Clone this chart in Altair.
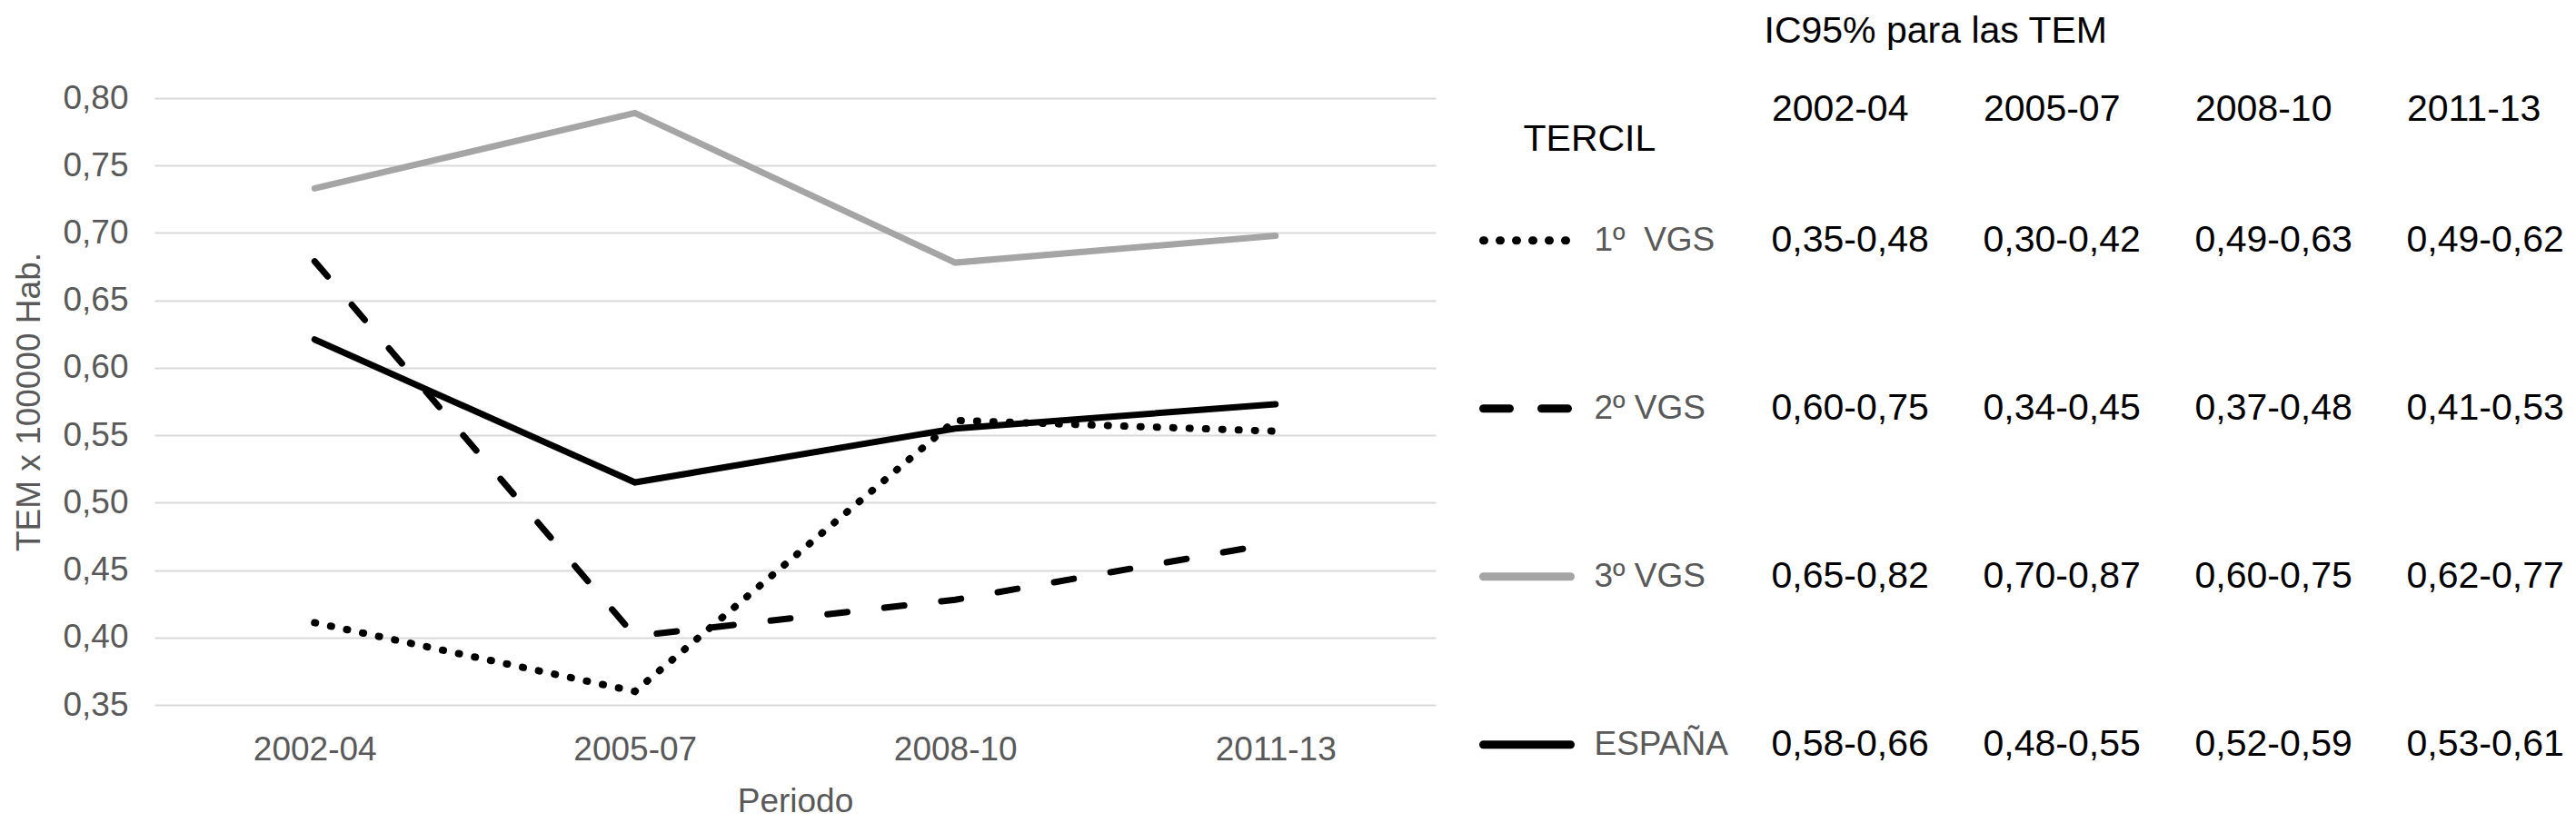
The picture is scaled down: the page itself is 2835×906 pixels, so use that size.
import altair as alt
import pandas as pd

# ---------------- data ----------------
periods = ["2002-04", "2005-07", "2008-10", "2011-13"]
series = ["1º\u00a0 VGS", "2º VGS", "3º VGS", "ESPAÑA"]

tem_1 = [0.411, 0.360, 0.561, 0.553]
tem_2 = [0.679, 0.401, 0.428, 0.470]
tem_3 = [0.733, 0.789, 0.678, 0.698]
tem_es = [0.621, 0.515, 0.555, 0.573]

ic_1 = ["0,35-0,48", "0,30-0,42", "0,49-0,63", "0,49-0,62"]
ic_2 = ["0,60-0,75", "0,34-0,45", "0,37-0,48", "0,41-0,53"]
ic_3 = ["0,65-0,82", "0,70-0,87", "0,60-0,75", "0,62-0,77"]
ic_es = ["0,58-0,66", "0,48-0,55", "0,52-0,59", "0,53-0,61"]

y_ticks = [0.35, 0.40, 0.45, 0.50, 0.55, 0.60, 0.65, 0.70, 0.75, 0.80]

table_cols = ["TERCIL"] + periods

# ---------------- styles ----------------
FONT = "Liberation Sans"
GREY_TXT = "#595959"
S1, S2, S3, SE = series
styles = {
    S1: dict(color="#000000", strokeWidth=8, strokeDash=[1, 17], strokeCap="round"),
    S2: dict(color="#000000", strokeWidth=7, strokeDash=[22, 41], strokeCap="round"),
    S3: dict(color="#a5a5a5", strokeWidth=7, strokeCap="round"),
    SE: dict(color="#000000", strokeWidth=7, strokeCap="round"),
}
legend_dash = {S1: [1, 17], S2: [29, 35]}
values = {S1: tem_1, S2: tem_2, S3: tem_3, SE: tem_es}
ics = {S1: ic_1, S2: ic_2, S3: ic_3, SE: ic_es}

# ---------------- left: line chart ----------------
x_enc = alt.X(
    "periodo:N",
    sort=periods,
    scale=alt.Scale(type="point", domain=periods, padding=0.5),
    axis=alt.Axis(
        title="Periodo", labelAngle=0, labelFont=FONT, labelFontSize=37,
        labelColor=GREY_TXT, labelPadding=31, domain=False, ticks=False, tickSize=0,
        grid=False, titleFont=FONT, titleFontSize=37, titleFontWeight="normal",
        titleColor=GREY_TXT, titlePadding=21,
    ),
)
y_enc = alt.Y(
    "tem:Q",
    scale=alt.Scale(domain=[0.35, 0.80], nice=False, zero=False),
    axis=alt.Axis(
        values=y_ticks, labelExpr="replace(format(datum.value, '.2f'), '.', ',')",
        title="TEM x 100000 Hab.", labelFont=FONT, labelFontSize=37,
        labelColor=GREY_TXT, labelPadding=29, domain=False, ticks=False, tickSize=0,
        grid=True, gridColor="#d9d9d9", gridWidth=2, titleFont=FONT,
        titleFontSize=37, titleFontWeight="normal", titleColor=GREY_TXT,
        titlePadding=17,
    ),
)

order = [S3, S1, S2, SE]
line_layers = []
for s in order:
    df = pd.DataFrame({"periodo": periods, "tem": values[s], "serie": s})
    line_layers.append(alt.Chart(df).mark_line(**styles[s]).encode(x=x_enc, y=y_enc))
left = alt.layer(*line_layers).properties(width=1410, height=668)

# ---------------- right: table / legend ----------------
cells = pd.DataFrame(
    [{"tercil": s, "col": p, "txt": ics[s][i]} for s in series for i, p in enumerate(periods)]
)
rows = pd.DataFrame({"tercil": series, "col": "TERCIL"})
head = pd.DataFrame({"tercil": [series[0]], "col": ["TERCIL"], "txt": ["TERCIL"]})

rx = alt.X(
    "col:N",
    scale=alt.Scale(type="point", domain=table_cols, padding=0.5),
    axis=alt.Axis(
        orient="top", title="IC95% para las TEM", labelAngle=0,
        labelExpr="datum.value == 'TERCIL' ? '' : datum.value",
        labelAlign="left", labelBaseline="alphabetic", labelFont=FONT,
        labelFontSize=41, labelColor="#000000", labelPadding=0, offset=-24,
        labelOverlap=False, labelBound=False,
        domain=False, ticks=False, tickSize=0, grid=False,
        titleFont=FONT, titleFontSize=41, titleFontWeight="normal",
        titleColor="#000000", titleAlign="left", titleBaseline="alphabetic",
        titleX=341, titleY=-86, titleAngle=0,
    ),
)
ry = alt.Y(
    "tercil:N",
    scale=alt.Scale(type="point", domain=series, padding=0.446, align=0.95),
    axis=None,
)

right_layers = []
for s in series:
    st = styles[s]
    mk = dict(color=st["color"], strokeWidth=9, strokeCap="round",
              xOffset=-84, x2Offset=12)
    if s in legend_dash:
        mk["strokeDash"] = legend_dash[s]
    right_layers.append(
        alt.Chart(rows[rows.tercil == s]).mark_rule(**mk).encode(
            x=rx, x2=alt.X2("col"), y=ry
        )
    )
right_layers.append(
    alt.Chart(rows).mark_text(align="left", baseline="middle", dx=38, font=FONT,
                              fontSize=37, color=GREY_TXT).encode(x=rx, y=ry, text="tercil:N")
)
right_layers.append(
    alt.Chart(cells).mark_text(align="left", baseline="middle", font=FONT,
                               fontSize=41, color="#000000").encode(x=rx, y=ry, text="txt:N")
)
right_layers.append(
    alt.Chart(head).mark_text(align="left", baseline="middle", dx=-40, dy=-111, font=FONT,
                              fontSize=41, color="#000000").encode(x=rx, y=ry, text="txt:N")
)
right = alt.layer(*right_layers).properties(width=1165, height=720)

chart = (
    alt.hconcat(left, right, spacing=20, bounds="flush")
    .properties(padding={"left": 5, "top": 5, "right": 0, "bottom": 0}, background="white")
    .configure_view(strokeWidth=0)
)

chart.save("out.html", embed_options={"renderer": "svg", "actions": False})
